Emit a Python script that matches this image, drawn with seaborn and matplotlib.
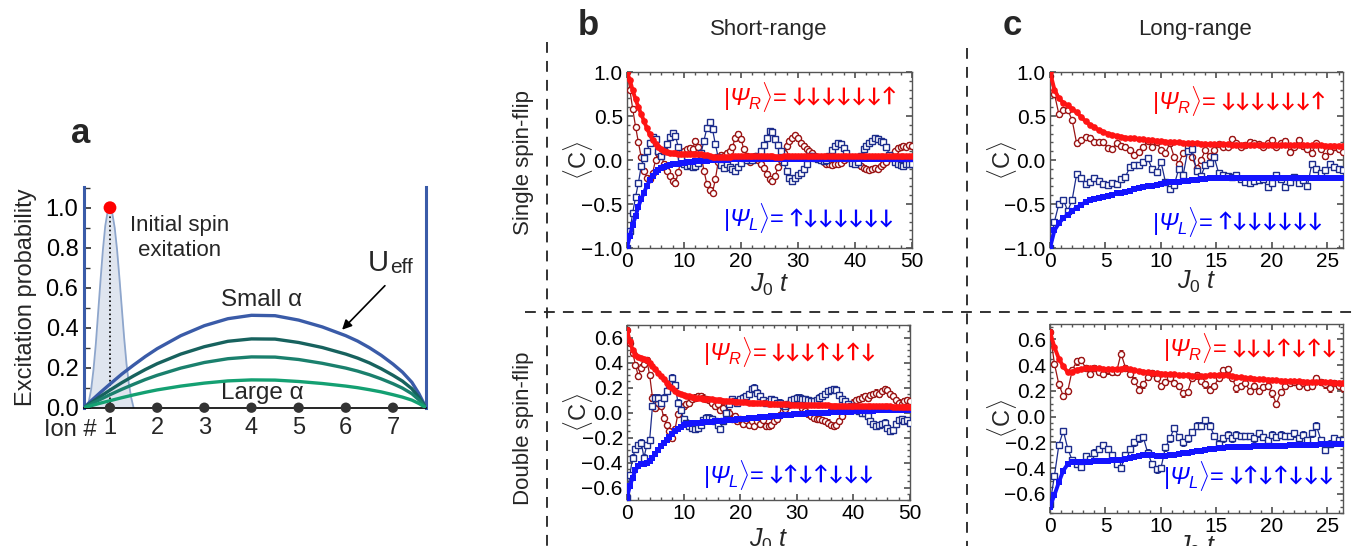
import numpy as np
import matplotlib
matplotlib.use('Agg')
import matplotlib.pyplot as plt
import seaborn as sns
from matplotlib.lines import Line2D
from matplotlib.ticker import MultipleLocator, FuncFormatter

sns.set_theme(style='ticks')
plt.rcParams['font.family'] = ['Liberation Sans', 'DejaVu Sans']
plt.rcParams['mathtext.fontset'] = 'custom'
plt.rcParams['mathtext.rm'] = 'Liberation Sans'
plt.rcParams['mathtext.it'] = 'Liberation Sans:italic'
plt.rcParams['mathtext.sf'] = 'Liberation Sans:italic'
plt.rcParams['mathtext.bf'] = 'Liberation Sans:bold'

# ---------------- panel a: excitation profile ----------------
ions = [1, 2, 3, 4, 5, 6, 7]
gauss_x = [0.50, 0.55, 0.60, 0.65, 0.70, 0.75, 0.80, 0.85, 0.90, 0.95, 1.00,
           1.05, 1.10, 1.15, 1.20, 1.25, 1.30, 1.35, 1.40, 1.45, 1.50]
gauss_y = [0.0, 0.03, 0.09, 0.19, 0.32, 0.48, 0.64, 0.79, 0.91, 0.98, 1.00,
           0.97, 0.90, 0.79, 0.65, 0.50, 0.35, 0.22, 0.12, 0.05, 0.0]
arch_x = [0.449, 0.6, 0.8, 1.0, 1.25, 1.5, 1.75, 2.0, 2.5, 3.0, 3.5, 4.0,
          4.5, 5.0, 5.5, 6.0, 6.25, 6.5, 6.75, 7.0, 7.2, 7.4, 7.55, 7.70]
arch_small = [0, 0.034, 0.077, 0.118, 0.168, 0.213, 0.256, 0.295, 0.36, 0.41, 0.445, 0.462,
              0.46, 0.438, 0.404, 0.36, 0.333, 0.30, 0.262, 0.218, 0.178, 0.127, 0.07, 0]
arch_mid1 = [0, 0.025, 0.057, 0.088, 0.125, 0.159, 0.191, 0.220, 0.268, 0.305, 0.332, 0.344,
             0.343, 0.326, 0.301, 0.268, 0.248, 0.224, 0.195, 0.162, 0.133, 0.095, 0.052, 0]
arch_mid2 = [0, 0.019, 0.042, 0.065, 0.092, 0.117, 0.141, 0.162, 0.198, 0.226, 0.245, 0.254,
             0.253, 0.241, 0.222, 0.198, 0.183, 0.165, 0.144, 0.120, 0.098, 0.070, 0.039, 0]
arch_large = [0, 0.010, 0.023, 0.035, 0.050, 0.064, 0.077, 0.089, 0.108, 0.123, 0.134, 0.139,
              0.138, 0.131, 0.121, 0.108, 0.100, 0.090, 0.079, 0.065, 0.053, 0.038, 0.021, 0]

# ---------------- short-range (J0 t step 0.5) ----------------
sr_single_red_th = [1.00, 0.91, 0.79, 0.69, 0.60, 0.52, 0.44, 0.36, 0.29, 0.23,
                    0.18, 0.15, 0.125, 0.105, 0.095, 0.085, 0.08, 0.075, 0.07, 0.07,
                    0.07, 0.07, 0.072, 0.072, 0.072, 0.07, 0.068, 0.062, 0.052, 0.04,
                    0.032, 0.03, 0.03, 0.032, 0.034, 0.036, 0.038, 0.04, 0.042, 0.042,
                    0.043, 0.044, 0.044, 0.044, 0.043, 0.042, 0.042, 0.041, 0.04, 0.04,
                    0.04, 0.04, 0.039, 0.039, 0.039, 0.04, 0.04, 0.04, 0.041, 0.041,
                    0.041, 0.041, 0.042, 0.042, 0.042, 0.042, 0.042, 0.041, 0.041, 0.041,
                    0.04, 0.04, 0.04, 0.04, 0.04, 0.04, 0.04, 0.04, 0.04, 0.04,
                    0.04, 0.04, 0.04, 0.04, 0.04, 0.04, 0.04, 0.04, 0.04, 0.04,
                    0.04, 0.04, 0.04, 0.04, 0.04, 0.04, 0.04, 0.04, 0.04, 0.04,
                    0.04]
sr_single_blue_th = [-1.00, -0.86, -0.74, -0.64, -0.53, -0.44, -0.37, -0.29, -0.23, -0.18,
                     -0.14, -0.11, -0.09, -0.075, -0.065, -0.055, -0.05, -0.045, -0.04, -0.035,
                     -0.03, -0.027, -0.024, -0.02, -0.015, -0.012, -0.01, -0.008, -0.006, -0.005,
                     -0.004, -0.002, 0.0, 0.002, 0.004, 0.005, 0.006, 0.007, 0.008, 0.009,
                     0.01, 0.01, 0.011, 0.011, 0.012, 0.012, 0.012, 0.012, 0.013, 0.013,
                     0.013, 0.013, 0.013, 0.013, 0.013, 0.014, 0.014, 0.014, 0.014, 0.014,
                     0.014, 0.014, 0.014, 0.014, 0.014, 0.015, 0.015, 0.015, 0.015, 0.015,
                     0.015, 0.015, 0.015, 0.015, 0.015, 0.015, 0.015, 0.015, 0.015, 0.015,
                     0.015, 0.015, 0.015, 0.015, 0.015, 0.015, 0.015, 0.015, 0.015, 0.015,
                     0.015, 0.015, 0.015, 0.015, 0.015, 0.015, 0.015, 0.015, 0.015, 0.015,
                     0.015]
sr_single_red = [1.00, 0.80, 0.58, 0.38, 0.20, 0.03, -0.12, -0.20, -0.22, -0.15,
                 0.00, 0.08, 0.06, -0.04, -0.12, -0.18, -0.24, -0.26, -0.14, 0.02,
                 0.10, 0.12, 0.14, 0.12, 0.22, 0.15, 0.05, -0.12, -0.27, -0.34,
                 -0.37, -0.22, -0.02, 0.06, 0.05, 0.08, 0.10, 0.15, 0.25, 0.30,
                 0.24, 0.12, 0.04, -0.02, 0.03, 0.05, 0.00, -0.05, -0.09, -0.16,
                 -0.22, -0.24, -0.18, -0.08, 0.00, 0.08, 0.16, 0.22, 0.25, 0.28,
                 0.25, 0.19, 0.16, 0.13, 0.10, 0.08, 0.04, 0.02, 0.00, -0.02,
                 -0.04, -0.05, -0.06, -0.04, -0.05, -0.03, 0.00, 0.02, 0.02, 0.01,
                 -0.02, -0.04, -0.07, -0.09, -0.10, -0.11, -0.10, -0.09, -0.10, -0.07,
                 -0.05, -0.02, 0.02, 0.06, 0.10, 0.14, 0.15, 0.16, 0.15, 0.17,
                 0.16]
sr_single_blue = [-1.00, -0.81, -0.60, -0.42, -0.26, -0.07, 0.02, 0.10, 0.19, 0.26,
                  0.24, 0.10, 0.04, 0.10, 0.18, 0.26, 0.31, 0.27, 0.15, 0.02,
                  -0.05, -0.07, -0.06, -0.08, -0.07, -0.03, 0.08, 0.22, 0.36, 0.43,
                  0.35, 0.18, 0.03, -0.06, -0.09, -0.05, -0.08, -0.10, -0.13, -0.08,
                  -0.03, 0.02, 0.00, 0.02, 0.00, 0.03, 0.05, 0.10, 0.17, 0.25,
                  0.33, 0.32, 0.24, 0.17, 0.10, -0.02, -0.12, -0.20, -0.24, -0.20,
                  -0.17, -0.15, -0.10, -0.05, 0.04, 0.04, 0.02, 0.01, 0.00, -0.01,
                  0.00, 0.05, 0.11, 0.16, 0.19, 0.18, 0.14, 0.08, 0.02, -0.03,
                  -0.05, -0.02, 0.05, 0.12, 0.16, 0.19, 0.22, 0.25, 0.24, 0.22,
                  0.20, 0.15, 0.06, 0.02, -0.02, -0.04, -0.06, -0.07, -0.05, -0.04,
                  -0.04]

sr_double_red_th = [0.66, 0.57, 0.50, 0.46, 0.445, 0.44, 0.43, 0.42, 0.40, 0.375,
                    0.35, 0.32, 0.29, 0.265, 0.24, 0.215, 0.195, 0.175, 0.16, 0.15,
                    0.14, 0.135, 0.13, 0.125, 0.12, 0.117, 0.115, 0.112, 0.11, 0.107,
                    0.105, 0.102, 0.10, 0.098, 0.096, 0.094, 0.092, 0.09, 0.088, 0.086,
                    0.085, 0.083, 0.082, 0.08, 0.079, 0.078, 0.076, 0.075, 0.074, 0.073,
                    0.072, 0.071, 0.07, 0.069, 0.068, 0.067, 0.066, 0.065, 0.064, 0.063,
                    0.062, 0.062, 0.061, 0.061, 0.06, 0.06, 0.059, 0.059, 0.058, 0.058,
                    0.057, 0.057, 0.056, 0.056, 0.055, 0.055, 0.054, 0.054, 0.053, 0.053,
                    0.052, 0.052, 0.052, 0.051, 0.051, 0.051, 0.05, 0.05, 0.05, 0.05,
                    0.049, 0.049, 0.049, 0.049, 0.048, 0.048, 0.048, 0.048, 0.048, 0.047,
                    0.047]
sr_double_blue_th = [-0.68, -0.59, -0.52, -0.46, -0.43, -0.415, -0.41, -0.40, -0.39, -0.36,
                     -0.33, -0.30, -0.27, -0.245, -0.22, -0.195, -0.17, -0.15, -0.13, -0.115,
                     -0.10, -0.095, -0.09, -0.087, -0.085, -0.082, -0.08, -0.078, -0.076, -0.074,
                     -0.072, -0.07, -0.068, -0.066, -0.064, -0.062, -0.06, -0.058, -0.056, -0.054,
                     -0.052, -0.05, -0.048, -0.046, -0.044, -0.042, -0.04, -0.038, -0.036, -0.034,
                     -0.032, -0.03, -0.028, -0.026, -0.024, -0.022, -0.02, -0.018, -0.016, -0.014,
                     -0.012, -0.01, -0.009, -0.008, -0.007, -0.006, -0.005, -0.004, -0.003, -0.002,
                     -0.001, 0.0, 0.001, 0.002, 0.003, 0.004, 0.005, 0.006, 0.007, 0.008,
                     0.009, 0.01, 0.011, 0.012, 0.013, 0.014, 0.015, 0.016, 0.017, 0.017,
                     0.018, 0.018, 0.019, 0.019, 0.02, 0.02, 0.02, 0.021, 0.021, 0.021,
                     0.022]
sr_double_red = [0.66, 0.56, 0.48, 0.38, 0.29, 0.36, 0.39, 0.42, 0.30, 0.12,
                 0.04, 0.08, 0.05, -0.04, -0.10, -0.15, -0.20, -0.13, -0.01, 0.03,
                 0.05, 0.07, 0.08, 0.11, 0.12, 0.13, 0.13, 0.12, 0.11, 0.10,
                 0.08, 0.05, 0.07, 0.02, 0.04, -0.01, 0.00, -0.05, -0.03, -0.07,
                 -0.05, -0.09, -0.06, -0.10, -0.07, -0.11, -0.07, -0.09, -0.06, -0.11,
                 -0.11, -0.10, -0.07, -0.05, -0.02, 0.01, 0.03, 0.06, 0.10, 0.11,
                 0.10, 0.08, 0.04, 0.01, -0.01, -0.03, -0.04, -0.05, -0.05, -0.06,
                 -0.07, -0.08, -0.10, -0.11, -0.10, -0.07, -0.03, 0.01, 0.04, 0.07,
                 0.08, 0.10, 0.11, 0.12, 0.13, 0.12, 0.14, 0.15, 0.16, 0.15,
                 0.17, 0.19, 0.18, 0.15, 0.13, 0.10, 0.08, 0.07, 0.09, 0.10,
                 0.09]
sr_double_blue = [-0.68, -0.50, -0.36, -0.29, -0.26, -0.24, -0.36, -0.26, -0.22, 0.05,
                  0.12, 0.12, 0.08, 0.12, 0.17, 0.23, 0.28, 0.22, 0.08, 0.02,
                  -0.05, -0.08, -0.11, -0.12, -0.13, -0.12, -0.10, -0.06, -0.04, -0.04,
                  -0.05, -0.07, -0.10, -0.13, -0.07, 0.00, 0.07, 0.11, 0.09, 0.08,
                  0.11, 0.12, 0.13, 0.15, 0.19, 0.20, 0.16, 0.13, 0.10, 0.08,
                  0.09, 0.11, 0.10, 0.08, 0.08, 0.06, 0.05, 0.07, 0.10, 0.11,
                  0.12, 0.12, 0.11, 0.11, 0.10, 0.09, 0.09, 0.10, 0.12, 0.13,
                  0.15, 0.17, 0.18, 0.19, 0.18, 0.14, 0.11, 0.09, 0.07, 0.05,
                  0.03, 0.02, 0.01, 0.00, 0.00, -0.03, -0.07, -0.09, -0.11, -0.10,
                  -0.09, -0.08, -0.12, -0.15, -0.14, -0.09, -0.06, -0.05, -0.07, -0.06,
                  -0.08]

# ---------------- long-range (J0 t step 0.4) ----------------
lr_single_red_th = [1.00, 0.80, 0.70, 0.65, 0.62, 0.58, 0.54, 0.49, 0.44, 0.40,
                    0.37, 0.34, 0.32, 0.30, 0.285, 0.275, 0.265, 0.255, 0.25, 0.245,
                    0.24, 0.235, 0.23, 0.225, 0.22, 0.215, 0.21, 0.205, 0.20, 0.20,
                    0.195, 0.195, 0.19, 0.19, 0.185, 0.185, 0.18, 0.18, 0.18, 0.178,
                    0.178, 0.176, 0.176, 0.175, 0.175, 0.174, 0.174, 0.173, 0.172, 0.172,
                    0.171, 0.17, 0.17, 0.17, 0.169, 0.168, 0.168, 0.167, 0.166, 0.166,
                    0.165, 0.165, 0.164, 0.164, 0.163, 0.163, 0.162]
lr_single_blue_th = [-1.00, -0.80, -0.72, -0.66, -0.62, -0.58, -0.54, -0.51, -0.48, -0.46,
                     -0.445, -0.43, -0.42, -0.41, -0.395, -0.38, -0.37, -0.36, -0.35, -0.335,
                     -0.32, -0.31, -0.30, -0.29, -0.28, -0.27, -0.26, -0.255, -0.25, -0.245,
                     -0.24, -0.235, -0.23, -0.225, -0.22, -0.215, -0.21, -0.205, -0.20, -0.20,
                     -0.20, -0.20, -0.20, -0.20, -0.201, -0.202, -0.203, -0.204, -0.205, -0.206,
                     -0.207, -0.208, -0.208, -0.209, -0.21, -0.21, -0.21, -0.21, -0.21, -0.21,
                     -0.21, -0.21, -0.21, -0.21, -0.21, -0.21, -0.21]
lr_single_red = [0.95, 0.75, 0.52, 0.57, 0.57, 0.45, 0.19, 0.23, 0.26, 0.25,
                 0.21, 0.20, 0.20, 0.14, 0.13, 0.19, 0.16, 0.15, 0.11, 0.06,
                 0.09, 0.15, 0.22, 0.15, 0.21, 0.11, 0.08, 0.19, 0.03, -0.04,
                 0.08, 0.15, 0.03, -0.09, 0.00, 0.11, 0.04, 0.11, 0.18, 0.15,
                 0.15, 0.24, 0.19, 0.15, 0.17, 0.21, 0.19, 0.18, 0.15, 0.19,
                 0.23, 0.15, 0.19, 0.22, 0.09, 0.15, 0.23, 0.16, 0.12, 0.08,
                 0.19, 0.13, 0.04, 0.10, 0.15, 0.12, 0.09]
lr_single_blue = [-1.00, -0.70, -0.50, -0.45, -0.58, -0.45, -0.16, -0.20, -0.27, -0.25,
                  -0.20, -0.24, -0.27, -0.28, -0.26, -0.27, -0.22, -0.19, -0.08, -0.06,
                  -0.06, -0.02, 0.02, -0.10, -0.14, -0.02, -0.25, -0.33, -0.28, -0.10,
                  -0.17, 0.10, 0.12, -0.12, -0.18, -0.06, -0.03, 0.03, -0.15, -0.17,
                  -0.18, -0.19, -0.17, -0.22, -0.25, -0.26, -0.24, -0.23, -0.22, -0.31,
                  -0.26, -0.17, -0.22, -0.31, -0.25, -0.19, -0.26, -0.23, -0.29, -0.04,
                  -0.10, -0.15, -0.11, -0.05, -0.08, -0.10, -0.11]

lr_double_red_th = [0.66, 0.54, 0.45, 0.39, 0.345, 0.35, 0.365, 0.37, 0.375, 0.375,
                    0.375, 0.375, 0.372, 0.37, 0.37, 0.37, 0.372, 0.375, 0.37, 0.36,
                    0.355, 0.35, 0.345, 0.34, 0.338, 0.335, 0.333, 0.33, 0.328, 0.325,
                    0.323, 0.32, 0.318, 0.316, 0.316, 0.318, 0.32, 0.322, 0.325, 0.325,
                    0.322, 0.315, 0.31, 0.305, 0.30, 0.298, 0.295, 0.292, 0.29, 0.288,
                    0.285, 0.283, 0.28, 0.278, 0.276, 0.275, 0.273, 0.272, 0.27, 0.27,
                    0.268, 0.268, 0.267, 0.266, 0.265, 0.265, 0.264]
lr_double_blue_th = [-0.70, -0.61, -0.51, -0.42, -0.37, -0.355, -0.355, -0.355, -0.35, -0.35,
                     -0.348, -0.346, -0.344, -0.342, -0.34, -0.337, -0.334, -0.33, -0.325, -0.315,
                     -0.305, -0.30, -0.30, -0.302, -0.305, -0.307, -0.305, -0.30, -0.295, -0.29,
                     -0.285, -0.28, -0.275, -0.27, -0.265, -0.26, -0.255, -0.25, -0.246, -0.243,
                     -0.24, -0.238, -0.236, -0.235, -0.234, -0.233, -0.232, -0.231, -0.23, -0.229,
                     -0.228, -0.227, -0.226, -0.225, -0.224, -0.223, -0.222, -0.221, -0.22, -0.219,
                     -0.218, -0.217, -0.216, -0.215, -0.214, -0.213, -0.212]
lr_double_red = [0.66, 0.41, 0.25, 0.16, 0.20, 0.36, 0.43, 0.44, 0.38, 0.33,
                 0.38, 0.35, 0.33, 0.36, 0.35, 0.35, 0.49, 0.38, 0.33, 0.28,
                 0.21, 0.25, 0.31, 0.34, 0.30, 0.24, 0.27, 0.30, 0.26, 0.24,
                 0.18, 0.19, 0.30, 0.32, 0.28, 0.25, 0.21, 0.24, 0.30, 0.36,
                 0.37, 0.30, 0.22, 0.24, 0.26, 0.20, 0.24, 0.20, 0.23, 0.24,
                 0.18, 0.10, 0.19, 0.24, 0.26, 0.27, 0.24, 0.26, 0.23, 0.24,
                 0.30, 0.27, 0.25, 0.22, 0.26, 0.24, 0.22]
lr_double_blue = [-0.68, -0.46, -0.22, -0.11, -0.25, -0.34, -0.37, -0.39, -0.31, -0.33,
                  -0.28, -0.25, -0.22, -0.25, -0.30, -0.37, -0.40, -0.30, -0.25, -0.20,
                  -0.17, -0.16, -0.28, -0.37, -0.41, -0.40, -0.24, -0.17, -0.09, -0.16,
                  -0.20, -0.17, -0.12, -0.07, -0.07, -0.03, -0.07, -0.15, -0.21, -0.17,
                  -0.14, -0.17, -0.14, -0.15, -0.15, -0.15, -0.17, -0.13, -0.16, -0.18,
                  -0.14, -0.16, -0.14, -0.15, -0.15, -0.13, -0.17, -0.14, -0.18, -0.13,
                  -0.07, -0.18, -0.26, -0.21, -0.17, -0.18, -0.18]

RED, DARKRED = '#ff1414', '#9a1414'
BLUE, NAVY = '#1414ff', '#1c2c8c'

W, H = 1356, 546
fig = plt.figure(figsize=(W / 100, H / 100), dpi=100)


def fig_box(x0, y0, x1, y1):
    return [x0 / W, 1 - y1 / H, (x1 - x0) / W, (y1 - y0) / H]


def minus_fmt(v, pos):
    s = f'{v:.1f}'
    if s == '-0.0':
        s = '0.0'
    return s.replace('-', '\u2212')


def state_label(ax, x, y, name, spins, color):
    head = ax.text(x, y, r'$|\mathsf{Ψ}_' + name + r'\rangle$=', color=color, fontsize=17,
                   ha='left', va='center', zorder=10)
    ax.annotate(spins, xy=(1, 0.5), xycoords=head, xytext=(2.5, 0),
                textcoords='offset points', color=color, fontsize=14.5,
                family=['Lato', 'DejaVu Sans'], fontweight='bold',
                ha='left', va='center', zorder=10)


def draw_dynamics(ax, dt, red_th, blue_th, red_dat, blue_dat, err):
    for vals, col, mk in ((red_dat, DARKRED, 'o'), (blue_dat, NAVY, 's')):
        t = np.arange(len(vals)) * dt
        ax.errorbar(t, vals, yerr=err, fmt='none', ecolor=col, elinewidth=0.7,
                    capsize=1.2, capthick=0.7, zorder=2)
        sns.lineplot(x=t, y=vals, ax=ax, color=col, lw=0.9, marker=mk, markersize=4.4,
                     markerfacecolor='white', markeredgecolor=col, markeredgewidth=1.0,
                     legend=False, zorder=3)
    for vals, col, mk in ((blue_th, BLUE, 's'), (red_th, RED, 'o')):
        t = np.arange(len(vals)) * dt
        sns.lineplot(x=t, y=vals, ax=ax, color=col, lw=2.8, marker=mk, markersize=4.8,
                     markeredgecolor=col, markeredgewidth=0, legend=False, zorder=4)
    ax.tick_params(which='both', direction='in', top=True, right=True, colors='#555555',
                   labelcolor='black', labelsize=15, pad=3)
    ax.tick_params(which='major', length=4)
    ax.tick_params(which='minor', length=2.5)
    for sp in ax.spines.values():
        sp.set_color('#555555')
        sp.set_linewidth(1.0)
    ax.set_ylabel(r'$\langle\mathrm{C}\rangle$', fontsize=17, va='center')
    ax.set_xlabel(r'$J_{\mathit{0}}\ t$', fontsize=18, va='center')


# panel a
ax = fig.add_axes(fig_box(84, 186.7, 426, 407.7))
ax.fill_between(gauss_x, gauss_y, color='#dfe5ef', lw=0, zorder=1)
sns.lineplot(x=gauss_x, y=gauss_y, ax=ax, color='#8ea6cc', lw=1.3, legend=False, zorder=2)
ax.plot([ions[0], ions[0]], [0, max(gauss_y)], ls=':', color='black', lw=1.2, zorder=3)
arch_cols = ['#3a5ba8', '#17625e', '#1a806d', '#14a072']
for ys, col in zip([arch_small, arch_mid1, arch_mid2, arch_large], arch_cols):
    sns.lineplot(x=arch_x, y=ys, ax=ax, color=col, lw=2.4, legend=False, zorder=4)
sns.scatterplot(x=ions, y=[0] * len(ions), ax=ax, color='#333333', s=55, edgecolor='none',
                zorder=6, clip_on=False, legend=False)
sns.scatterplot(x=[ions[0]], y=[max(gauss_y)], ax=ax, color='red', s=85, edgecolor='none',
                zorder=7, clip_on=False, legend=False)
ax.set_xlim(0.449, 7.70)
ax.set_ylim(0, 1.105)
for side in ('left', 'right'):
    ax.spines[side].set_color('#3a5ba8')
    ax.spines[side].set_linewidth(2.2)
ax.spines['top'].set_visible(False)
ax.spines['bottom'].set_color('black')
ax.spines['bottom'].set_linewidth(1.2)
ax.set_xticks(ions)
ax.set_xticklabels([str(i) for i in ions])
ax.set_yticks([0, 0.2, 0.4, 0.6, 0.8, 1.0])
ax.set_yticklabels(['0.0', '0.2', '0.4', '0.6', '0.8', '1.0'])
ax.yaxis.set_minor_locator(MultipleLocator(0.1))
ax.tick_params(axis='x', length=0, labelsize=17, pad=7)
ax.tick_params(axis='y', which='both', direction='in', left=True, colors='#333333',
               labelcolor='black', labelsize=17, pad=4)
ax.tick_params(axis='y', which='major', length=5)
ax.tick_params(axis='y', which='minor', length=4)
ax.set_ylabel('Excitation probability', fontsize=17, labelpad=6)
ax.text(0.72, -0.10, 'Ion #', transform=ax.get_xaxis_transform(), ha='right', va='center',
        fontsize=17)
ax.text(2.48, 0.85, 'Initial spin\nexitation', ha='center', va='center', fontsize=16,
        linespacing=1.25)
ax.text(4.22, 0.54, 'Small α', ha='center', va='center', fontsize=17.5)
ax.text(4.22, 0.072, 'Large α', ha='center', va='center', fontsize=17.5)
u_txt = ax.text(6.47, 0.655, 'U', ha='left', va='bottom', fontsize=21)
ax.annotate('eff', xy=(1, 0), xycoords=u_txt, xytext=(0.5, 0), textcoords='offset points',
            ha='left', va='bottom', fontsize=15)
ax.annotate('', xy=(5.88, 0.38), xytext=(6.87, 0.62),
            arrowprops=dict(arrowstyle='-|>', color='black', lw=1.2, mutation_scale=14))

# panels b and c
panels = [
    (fig_box(627, 72, 912, 248), 0.5, sr_single_red_th, sr_single_blue_th, sr_single_red,
     sr_single_blue, 0.03, (0, 50), (-1, 1), 10, 2, 0.5, 0.1,
     '↓↓↓↓↓↓↑', '↑↓↓↓↓↓↓', (16.9, 0.72), (16.9, -0.66), -0.172, -0.21),
    (fig_box(627, 325, 910, 500), 0.5, sr_double_red_th, sr_double_blue_th, sr_double_red,
     sr_double_blue, 0.025, (0, 50), (-0.7, 0.7), 10, 2, 0.2, 0.05,
     '↓↓↓↑↓↑↓', '↓↑↓↑↓↓↓', (13.4, 0.48), (13.4, -0.50), -0.173, -0.23),
    (fig_box(1050, 72, 1343, 248), 0.4, lr_single_red_th, lr_single_blue_th, lr_single_red,
     lr_single_blue, 0.03, (0, 26.4), (-1, 1), 5, 1, 0.5, 0.1,
     '↓↓↓↓↓↓↑', '↑↓↓↓↓↓↓', (9.2, 0.67), (9.2, -0.70), -0.164, -0.19),
    (fig_box(1050, 324, 1343, 513), 0.4, lr_double_red_th, lr_double_blue_th, lr_double_red,
     lr_double_blue, 0.025, (0, 26.4), (-0.75, 0.72), 5, 1, 0.2, 0.05,
     '↓↓↓↑↓↑↓', '↓↑↓↑↓↓↓', (10.2, 0.53), (10.2, -0.46), -0.164, -0.18),
]
for (box, dt, rth, bth, rd, bd, err, xl, yl, xmaj, xmin, ymaj, ymin,
     sr, sl, pr, pl, ylx, xly) in panels:
    ax = fig.add_axes(box)
    draw_dynamics(ax, dt, rth, bth, rd, bd, err)
    ax.set_xlim(*xl)
    ax.set_ylim(*yl)
    ax.xaxis.set_major_locator(MultipleLocator(xmaj))
    ax.xaxis.set_minor_locator(MultipleLocator(xmin))
    ax.yaxis.set_major_locator(MultipleLocator(ymaj))
    ax.yaxis.set_minor_locator(MultipleLocator(ymin))
    ax.yaxis.set_major_formatter(FuncFormatter(minus_fmt))
    ax.yaxis.set_label_coords(ylx, 0.5)
    ax.xaxis.set_label_coords(0.5, xly)
    state_label(ax, pr[0], pr[1], 'R', sr, '#ff0000')
    state_label(ax, pl[0], pl[1], 'L', sl, '#0000ff')

# layout decorations
fig.text(80.5 / W, 1 - 143 / H, 'a', fontsize=25, fontweight='bold', ha='center', va='baseline')
fig.text(588 / W, 1 - 35 / H, 'b', fontsize=25, fontweight='bold', ha='center', va='baseline')
fig.text(1012 / W, 1 - 35 / H, 'c', fontsize=25, fontweight='bold', ha='center', va='baseline')
fig.text(769 / W, 1 - 30 / H, 'Short-range', fontsize=16, ha='center', va='center')
fig.text(1195 / W, 1 - 30 / H, 'Long-range', fontsize=16, ha='center', va='center')
fig.text(523 / W, 1 - 162 / H, 'Single spin-flip', fontsize=16, rotation=90, ha='center', va='center')
fig.text(523 / W, 1 - 428 / H, 'Double spin-flip', fontsize=16, rotation=90, ha='center', va='center')
dash = dict(color='#222222', lw=1.3, ls=(0, (6, 4.5)), transform=fig.transFigure)
fig.add_artist(Line2D([547 / W, 547 / W], [1 - 42 / H, 0], **dash))
fig.add_artist(Line2D([967 / W, 967 / W], [1 - 48 / H, 0], **dash))
fig.add_artist(Line2D([525 / W, 1], [1 - 312 / H, 1 - 312 / H], **dash))

fig.savefig('out.png', dpi=100)
